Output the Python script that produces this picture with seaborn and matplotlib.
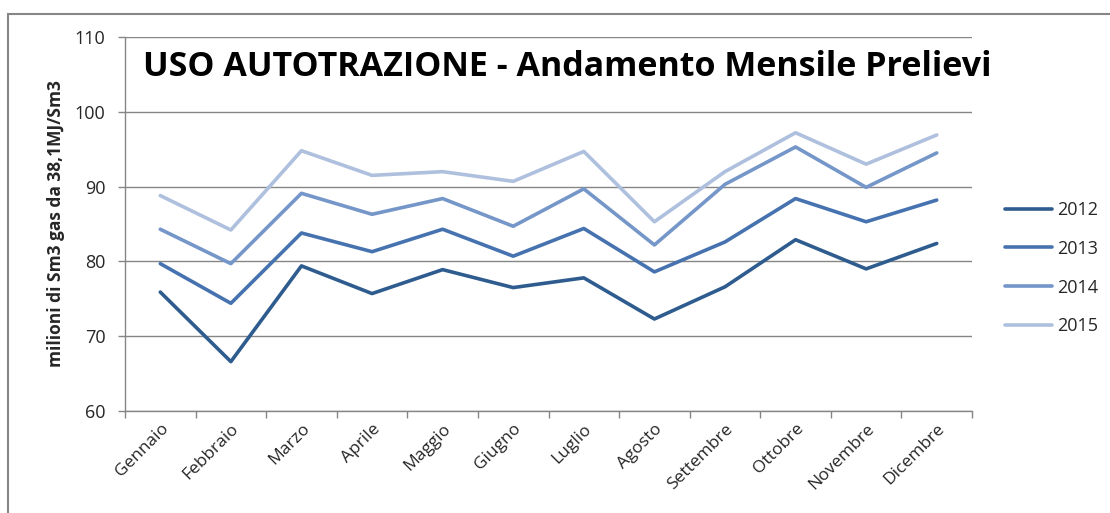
import pandas as pd
import seaborn as sns
import matplotlib.pyplot as plt
from matplotlib.patches import Rectangle

months = ['Gennaio', 'Febbraio', 'Marzo', 'Aprile', 'Maggio', 'Giugno',
          'Luglio', 'Agosto', 'Settembre', 'Ottobre', 'Novembre', 'Dicembre']
y2012 = [75.9, 66.6, 79.4, 75.7, 78.9, 76.5, 77.8, 72.3, 76.6, 82.9, 79.0, 82.4]
y2013 = [79.7, 74.4, 83.8, 81.3, 84.3, 80.7, 84.4, 78.6, 82.6, 88.4, 85.3, 88.2]
y2014 = [84.3, 79.7, 89.1, 86.3, 88.4, 84.7, 89.7, 82.2, 90.3, 95.3, 89.9, 94.5]
y2015 = [88.8, 84.2, 94.8, 91.5, 92.0, 90.7, 94.7, 85.3, 92.0, 97.2, 93.0, 96.9]
years = ['2012', '2013', '2014', '2015']
colors = ['#2F5C8F', '#4673B0', '#7596C8', '#AEC0DE']

df = pd.DataFrame({'mese': months * 4,
                   'valore': y2012 + y2013 + y2014 + y2015,
                   'anno': [y for y in years for _ in months]})
df['pos'] = [months.index(m) for m in df['mese']]

sns.set_theme(style='white')
plt.rcParams['font.family'] = ['Open Sans', 'DejaVu Sans']

fig = plt.figure(figsize=(11.1, 5.13), dpi=100)
ax = fig.add_axes([0.1126, 0.1988, 0.7631, 0.7291])

sns.lineplot(data=df, x='pos', y='valore', hue='anno', palette=colors,
             linewidth=2.6, ax=ax)

ax.set_xlim(-0.5, 11.5)
ax.set_ylim(60, 110)
ax.set_yticks(range(60, 111, 10))
# tick marks sit between the months, labels at the month centres
ax.set_xticks([i - 0.5 for i in range(13)], minor=False)
ax.set_xticklabels([])
ax.set_xticks(range(12), minor=True)
ax.set_xticklabels(months, minor=True, rotation=45, ha='right',
                   rotation_mode='anchor', fontsize=12.5)
ax.tick_params(axis='x', which='major', direction='out', length=5,
               color='#868686', width=1, bottom=True)
ax.tick_params(axis='x', which='minor', length=0, pad=7, bottom=True)
ax.tick_params(axis='y', direction='out', length=5, color='#868686',
               width=1, labelsize=13, left=True, pad=9)
ax.yaxis.grid(True, color='#868686', linewidth=1)
for s in ['top', 'right']:
    ax.spines[s].set_visible(False)
for s in ['left', 'bottom']:
    ax.spines[s].set_color('#868686')
    ax.spines[s].set_linewidth(1)
ax.set_xlabel('')
ax.set_ylabel('milioni di Sm3 gas da 38,1MJ/Sm3', fontsize=12.5,
              fontweight='bold', labelpad=7)

ax.text(0.021, 0.965, 'USO AUTOTRAZIONE - Andamento Mensile Prelievi',
        transform=ax.transAxes, fontsize=24.5, fontweight='bold',
        va='top', ha='left', color='black')

ax.legend(loc='center left', frameon=False, borderpad=0,
          borderaxespad=0, fontsize=13, handlelength=2.6, labelspacing=1.15,
          handletextpad=0.3)
ax.get_legend().set_bbox_to_anchor((1.039, 0.382), transform=ax.transAxes)

# chart frame (only top and left edges visible in the crop)
fig.patches.append(Rectangle((8 / 1110, -0.1), 1.2, 1 - 14 / 513 + 0.1,
                             transform=fig.transFigure, fill=False,
                             edgecolor='#868686', linewidth=1.5))

fig.savefig('out.png', dpi=100)
